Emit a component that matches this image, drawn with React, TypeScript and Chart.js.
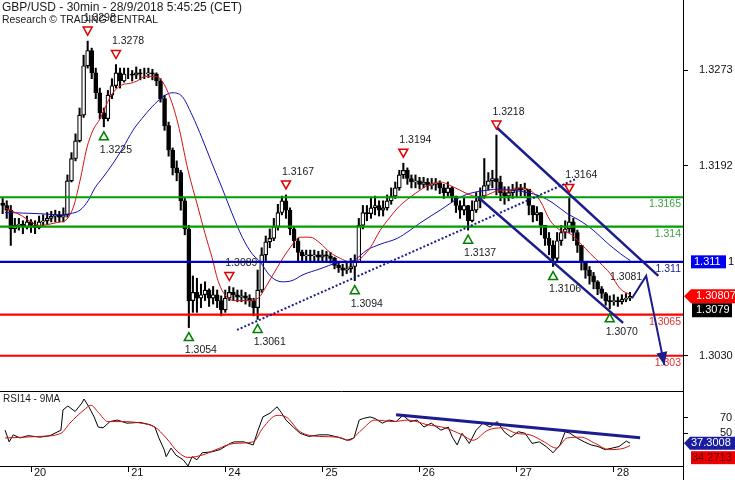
import React, { useEffect, useRef } from "react";
import { Chart, registerables } from "chart.js";

Chart.register(...registerables);

// ---------- texts ----------
const TITLE_LINE_1 = "GBP/USD - 30min - 28/9/2018 5:45:25 (CET)";
const TITLE_LINE_2 = "Research © TRADING CENTRAL";
const RSI_TITLE = "RSI14 - 9MA";

// ---------- x axis (hours since start of day 20, trading days only) ----------
const DAY_LABELS = ["20", "21", "24", "25", "26", "27", "28"];
const DAY_START_HOURS = [0, 24, 48, 72, 96, 120, 144];
const FIRST_BAR_HOUR = -7;
const X_MIN = -7.66;
const X_MAX = 161.1;

// ---------- price axis ----------
const PRICE_MIN = 1.3;
const PRICE_MAX = 1.3333;
const PRICE_TICKS = [1.303, 1.3192, 1.3273];

// ---------- hourly candles ----------
const OPEN_FIRST = 1.316;
const CLOSE = [
  1.3158, 1.3154, 1.3138, 1.3141, 1.3142, 1.314, 1.3144, 1.3141, 1.3139, 1.3144,
  1.3145, 1.3147, 1.3149, 1.315, 1.3148, 1.315, 1.3179, 1.3198, 1.3213, 1.3235,
  1.3277, 1.329, 1.3271, 1.3254, 1.3237, 1.3232, 1.3252, 1.326, 1.3271, 1.3264,
  1.327, 1.327, 1.3269, 1.3271, 1.327, 1.327, 1.3271, 1.327, 1.3264, 1.3249,
  1.3226, 1.3205, 1.319, 1.3186, 1.3162, 1.3138, 1.3077, 1.3084, 1.3079, 1.3082,
  1.3086, 1.3079, 1.3082, 1.3077, 1.3069, 1.3079, 1.3084, 1.3082, 1.308, 1.3081,
  1.3079, 1.3077, 1.3071, 1.3086, 1.3116, 1.3127, 1.313, 1.314, 1.3152, 1.3162,
  1.3154, 1.3138, 1.3128, 1.3118, 1.3115, 1.3116, 1.3115, 1.3116, 1.3114, 1.3116,
  1.3115, 1.3113, 1.3107, 1.3105, 1.3103, 1.3104, 1.3106, 1.311, 1.3141, 1.3152,
  1.3151, 1.3156, 1.3158, 1.3154, 1.3156, 1.3162, 1.3166, 1.3173, 1.3184, 1.3188,
  1.3181, 1.3178, 1.3179, 1.3176, 1.3178, 1.3175, 1.3176, 1.3177, 1.3173, 1.3169,
  1.3173, 1.3166, 1.3158, 1.3154, 1.3158, 1.3145, 1.3154, 1.3162, 1.3166, 1.3175,
  1.3179, 1.3181, 1.3178, 1.3169, 1.3166, 1.3169, 1.3171, 1.3173, 1.3171, 1.3172,
  1.3158, 1.315, 1.3152, 1.3141, 1.313, 1.3124, 1.3113, 1.3128, 1.3135, 1.3138,
  1.3144, 1.3135, 1.3124, 1.311, 1.3103, 1.3098, 1.3093, 1.3087, 1.3083, 1.3077,
  1.3076, 1.3077, 1.3076, 1.3078, 1.3079, 1.30807,
];
const HIGH = [
  1.3164, 1.3162, 1.3158, 1.3147, 1.3147, 1.3145, 1.3149, 1.3146, 1.3145, 1.3149,
  1.315, 1.3152, 1.3153, 1.3154, 1.3153, 1.3156, 1.3184, 1.3203, 1.3219, 1.3241,
  1.3286, 1.3298, 1.3292, 1.3275, 1.3258, 1.3241, 1.3256, 1.3266, 1.3278, 1.3275,
  1.3275, 1.3275, 1.3273, 1.3276, 1.3274, 1.3275, 1.3275, 1.3274, 1.3271, 1.3266,
  1.3252, 1.3229, 1.3207, 1.3196, 1.3188, 1.3164, 1.3141, 1.3098, 1.3096, 1.3091,
  1.3093, 1.3087, 1.3089, 1.3086, 1.3081, 1.3086, 1.3089, 1.3088, 1.3086, 1.3086,
  1.3084, 1.3082, 1.3079, 1.3103, 1.3122, 1.3132, 1.3138, 1.3147, 1.3159, 1.3166,
  1.3167, 1.3156, 1.314, 1.313, 1.312, 1.312, 1.312, 1.312, 1.3119, 1.312,
  1.3119, 1.3118, 1.3114, 1.311, 1.3108, 1.311, 1.3113, 1.3116, 1.3147, 1.3158,
  1.3158, 1.3164, 1.3166, 1.3162, 1.3162, 1.3167, 1.3173, 1.3178, 1.3188, 1.3194,
  1.319, 1.3184, 1.3184, 1.3182, 1.3182, 1.3181, 1.3181, 1.3181, 1.3179, 1.3176,
  1.3178, 1.3174, 1.3166, 1.3162, 1.3164, 1.3158, 1.3162, 1.3169, 1.3173, 1.3198,
  1.3186, 1.3188, 1.3218, 1.3183, 1.3174, 1.3174, 1.3176, 1.3178, 1.3176, 1.3177,
  1.3171, 1.3158, 1.3157, 1.3152, 1.3141, 1.3135, 1.3128, 1.3135, 1.3141, 1.3145,
  1.3164, 1.3147, 1.3137, 1.3124, 1.311, 1.3106, 1.3101, 1.3094, 1.3089, 1.3084,
  1.3081, 1.3082, 1.308, 1.3082, 1.3083, 1.3084,
];
const LOW = [
  1.3151, 1.3147, 1.3124, 1.3135, 1.3137, 1.3134, 1.3138, 1.3135, 1.3134, 1.3138,
  1.314, 1.3142, 1.3144, 1.3144, 1.3144, 1.3144, 1.3148, 1.3178, 1.3196, 1.3212,
  1.3233, 1.3275, 1.3266, 1.3249, 1.3232, 1.3225, 1.323, 1.3249, 1.3258, 1.3258,
  1.3263, 1.3266, 1.3264, 1.3266, 1.3265, 1.3266, 1.3267, 1.3265, 1.326, 1.3246,
  1.3222, 1.32, 1.3184, 1.3179, 1.3154, 1.3133, 1.3054, 1.3067, 1.3067, 1.3071,
  1.3077, 1.3072, 1.3074, 1.3071, 1.3064, 1.3067, 1.3077, 1.3077, 1.3076, 1.3076,
  1.3074, 1.3072, 1.3064, 1.3061, 1.3084, 1.3111, 1.3122, 1.3128, 1.3137, 1.315,
  1.3147, 1.3133, 1.3122, 1.3111, 1.311, 1.3111, 1.311, 1.3111, 1.311, 1.3111,
  1.311, 1.3109, 1.3104, 1.3101, 1.3098, 1.31, 1.3101, 1.3094, 1.311, 1.3138,
  1.3145, 1.3147, 1.315, 1.3149, 1.3149, 1.3154, 1.3159, 1.3164, 1.3171, 1.3181,
  1.3176, 1.3173, 1.3173, 1.3172, 1.3173, 1.3171, 1.3172, 1.3171, 1.3168, 1.3164,
  1.3166, 1.3161, 1.3152, 1.3147, 1.315, 1.3137, 1.3144, 1.3152, 1.3156, 1.3164,
  1.3171, 1.3173, 1.3167, 1.3162, 1.3159, 1.3162, 1.3164, 1.3165, 1.3166, 1.3166,
  1.315, 1.3144, 1.3145, 1.3133, 1.3124, 1.3116, 1.3106, 1.3111, 1.3124, 1.313,
  1.3135, 1.3128, 1.3118, 1.3103, 1.3096, 1.3091, 1.3087, 1.3082, 1.3079, 1.3073,
  1.307, 1.3073, 1.3072, 1.3074, 1.3076, 1.3077,
];

// ---------- moving averages: [hour, price] ----------
const RED_MA: [number, number][] = [
  [-6.4, 1.3156], [-2.7, 1.315], [2.2, 1.3141], [7.2, 1.3144], [8.4, 1.3145], [10.4, 1.3156],
  [12.1, 1.3179], [13.8, 1.3207], [15.3, 1.3222], [17.1, 1.3232], [18.3, 1.3241], [19.5, 1.325],
  [21.3, 1.3258], [22.7, 1.3261], [24.5, 1.3262], [26.2, 1.3264], [28.2, 1.3268], [30.6, 1.3268],
  [31.9, 1.3266], [33.9, 1.3254], [36.3, 1.3228], [38.8, 1.3188], [41.3, 1.3156], [43.0, 1.3134],
  [44.7, 1.3114], [46.2, 1.3094], [47.9, 1.3082], [50.4, 1.3077], [53.6, 1.3077], [56.1, 1.3079],
  [58.6, 1.3092], [61.5, 1.3109], [64.0, 1.3122], [66.5, 1.3131], [69.0, 1.3131], [71.4, 1.3126],
  [73.9, 1.3118], [76.4, 1.3113], [78.8, 1.311], [80.6, 1.3111], [83.8, 1.3122], [86.3, 1.3137],
  [88.7, 1.3148], [91.2, 1.3158], [93.7, 1.3165], [96.1, 1.3171], [98.6, 1.3176], [101.1, 1.3178],
  [103.6, 1.3175], [106.0, 1.3171], [108.5, 1.3167], [111.0, 1.3165], [113.4, 1.3168], [115.9, 1.3171],
  [118.4, 1.3171], [120.9, 1.3173], [123.3, 1.3171], [125.8, 1.3162], [128.3, 1.3145], [130.7, 1.3137],
  [133.2, 1.3134], [135.7, 1.3126], [138.2, 1.3117], [140.6, 1.3109], [143.1, 1.31], [145.6, 1.3087],
  [148.1, 1.3082],
];
const BLUE_MA: [number, number][] = [
  [-6.4, 1.3152], [2.2, 1.3151], [7.2, 1.315], [9.6, 1.3151], [12.1, 1.3154], [14.1, 1.3162],
  [15.8, 1.3173], [17.8, 1.3182], [20.3, 1.3194], [22.7, 1.3207], [25.2, 1.3222], [27.4, 1.3232],
  [29.9, 1.3242], [32.4, 1.325], [34.8, 1.3254], [37.3, 1.3251], [39.8, 1.3235], [42.3, 1.3215],
  [44.7, 1.3194], [47.2, 1.3173], [49.7, 1.3151], [52.2, 1.3131], [54.6, 1.3117], [56.6, 1.311],
  [59.1, 1.3098], [62.0, 1.3093], [64.5, 1.3094], [67.2, 1.3099], [71.4, 1.3104], [75.6, 1.3109],
  [79.6, 1.3111], [83.0, 1.312], [86.3, 1.3125], [90.5, 1.313], [93.7, 1.3137], [96.1, 1.3143],
  [101.1, 1.3154], [106.0, 1.3165], [109.2, 1.3169], [112.7, 1.3171], [115.9, 1.3172], [119.1, 1.3171],
  [122.6, 1.3169], [125.8, 1.3166], [129.0, 1.316], [132.5, 1.3151], [135.7, 1.3145], [138.9, 1.3137],
  [142.4, 1.3126], [145.6, 1.3117], [148.1, 1.3111],
];

// ---------- horizontal levels ----------
const LEVEL_VALUES = [1.3165, 1.314, 1.311, 1.3065, 1.303];
const LEVEL_TEXT = ["1.3165", "1.314", "1.311", "1.3065", "1.303"];

// ---------- pivots: [hour, price] ----------
const PIVOT_HIGHS: [number, number][] = [
  [14, 1.3298], [21, 1.3278], [49, 1.3089], [63, 1.3167], [92, 1.3194], [115, 1.3218], [133, 1.3164],
];
const PIVOT_LOWS: [number, number][] = [
  [18, 1.3225], [39, 1.3054], [56, 1.3061], [80, 1.3094], [108, 1.3137], [129, 1.3106], [143, 1.307],
];

// ---------- drawn lines: [hour, price] ----------
const CHANNEL_UPPER: [number, number][] = [[115.2, 1.3224], [155.0, 1.3098]];
const CHANNEL_LOWER: [number, number][] = [[110.5, 1.3165], [146.3, 1.3058]];
const SUPPORT_LINE: [number, number][] = [[50.9, 1.3052], [134.9, 1.3181]];
const PROJECTION: [number, number][] = [[148.5, 1.3079], [152.0, 1.3098], [156.5, 1.3022]];
const PROJECTION_TEXT = "1.3081";

// ---------- right-side value boxes ----------
const BLUE_BOX_VALUE = 1.311;
const LAST_PRICE = 1.30807;
const BID_PRICE = 1.3079;

// ---------- RSI panel ----------
const RSI_MIN = 8;
const RSI_MAX = 103;
const RSI_TICKS = [50, 70];
const RSI_LINE: [number, number][] = [
  [-6.4, 54], [-5.4, 39], [-4.4, 48], [-2.7, 44], [-0.7, 47], [2.2, 45], [4.7, 47], [7.4, 54],
  [7.9, 80], [9.1, 85], [10.9, 78], [12.6, 89], [13.1, 94], [14.3, 84], [15.6, 71], [16.6, 58],
  [17.8, 57], [19.5, 65], [21.3, 67], [23.7, 63], [26.9, 64], [29.4, 61], [30.6, 58], [31.6, 44],
  [32.9, 29], [33.4, 20], [34.6, 31], [35.8, 22], [37.6, 16], [38.8, 8], [39.8, 20], [41.0, 16],
  [42.3, 25], [44.5, 26], [46.7, 29], [49.2, 37], [50.2, 39], [52.6, 39], [54.9, 35], [56.1, 54],
  [57.3, 71], [59.1, 76], [60.8, 84], [61.8, 77], [63.0, 67], [64.8, 58], [66.5, 50], [68.7, 46],
  [71.2, 48], [73.4, 48], [75.9, 45], [78.1, 41], [79.8, 44], [81.1, 67], [82.1, 69], [83.8, 71],
  [85.0, 69], [86.8, 63], [88.5, 67], [90.2, 65], [91.9, 73], [93.7, 65], [95.4, 67], [97.1, 58],
  [98.9, 63], [101.3, 54], [103.1, 58], [104.1, 45], [105.3, 35], [106.5, 50], [108.3, 37], [110.0, 54],
  [111.7, 63], [113.4, 58], [115.2, 65], [116.9, 52], [118.6, 45], [120.4, 52], [122.1, 50], [123.8, 37],
  [125.6, 39], [127.3, 33], [129.0, 25], [130.7, 35], [132.0, 52], [133.2, 50], [134.9, 44], [136.7, 39],
  [138.4, 35], [140.1, 33], [141.9, 29], [143.6, 31], [145.3, 33], [147.1, 40], [148.0, 37.3],
];
const RSI_MA_LINE: [number, number][] = [
  [-6.4, 44], [2.2, 46], [7.4, 50], [9.6, 63], [13.1, 80], [14.8, 86], [16.6, 77], [19.0, 65],
  [22.5, 65], [27.2, 63], [30.6, 58], [33.4, 44], [36.3, 26], [38.8, 19], [42.3, 22], [45.7, 29],
  [50.2, 37], [54.9, 39], [57.3, 57], [60.8, 73], [63.0, 71], [66.5, 52], [71.2, 46], [75.9, 45],
  [78.6, 41], [81.6, 54], [85.0, 67], [89.7, 65], [93.2, 67], [97.9, 61], [102.3, 57], [106.5, 48],
  [109.2, 41], [112.9, 54], [116.4, 57], [119.9, 50], [123.3, 48], [126.8, 39], [129.8, 31], [132.5, 44],
  [135.9, 45], [139.4, 37], [142.9, 29], [146.6, 31], [148.0, 34.3],
];
const RSI_TREND: [number, number][] = [[90.2, 73.8], [150.5, 44.4]];
const RSI_LAST = 37.3008;
const RSI_MA_LAST = 34.2713;

// ---------- styles ----------
const FONT = '"Liberation Sans", Arial, Helvetica, sans-serif';
const NAVY = "#1c1c8e";
const LEVEL_LINE_COLORS = ["#00a000", "#00a000", "#0000cc", "#ff0000", "#ff0000"];
const LEVEL_TEXT_COLORS = ["#3f9f3f", "#3f9f3f", "#1c1c8e", "#e03030", "#e03030"];

Chart.defaults.font.family = FONT;

const pts = (arr: [number, number][]) => arr.map(([x, y]) => ({ x, y }));

function triangle(ctx: any, x: number, y: number, down: boolean, color: string) {
  const w = 4.5;
  const h = 4;
  ctx.beginPath();
  if (down) {
    ctx.moveTo(x - w, y - h);
    ctx.lineTo(x + w, y - h);
    ctx.lineTo(x, y + h);
  } else {
    ctx.moveTo(x - w, y + h);
    ctx.lineTo(x + w, y + h);
    ctx.lineTo(x, y - h);
  }
  ctx.closePath();
  ctx.fillStyle = "#ffffff";
  ctx.fill();
  ctx.lineWidth = 1.5;
  ctx.strokeStyle = color;
  ctx.stroke();
}

const mainDecor = {
  id: "mainDecor",
  beforeDatasetsDraw(chart: any) {
    const { ctx, chartArea } = chart;
    const ys = chart.scales.y;
    ctx.save();
    ctx.font = `10.5px ${FONT}`;
    ctx.textAlign = "right";
    ctx.textBaseline = "middle";
    LEVEL_VALUES.forEach((v, i) => {
      ctx.fillStyle = LEVEL_TEXT_COLORS[i];
      ctx.fillText(LEVEL_TEXT[i], chartArea.right - 2, ys.getPixelForValue(v) + 7);
    });
    ctx.restore();
  },
  afterDatasetsDraw(chart: any) {
    const { ctx } = chart;
    const xs = chart.scales.x;
    const ys = chart.scales.y;
    ctx.save();
    // title
    ctx.fillStyle = "#1a1a1a";
    ctx.textAlign = "left";
    ctx.textBaseline = "top";
    ctx.font = `12px ${FONT}`;
    ctx.fillText(TITLE_LINE_1, 2, 2);
    ctx.font = `11.5px ${FONT}`;
    ctx.fillText(TITLE_LINE_2, 2, 14, 156);

    // pivots
    ctx.font = `10.5px ${FONT}`;
    ctx.textBaseline = "middle";
    PIVOT_HIGHS.forEach(([t, p]) => {
      const x = xs.getPixelForValue(t);
      const y = ys.getPixelForValue(p);
      triangle(ctx, x, y - 10, true, "#e00000");
      ctx.fillStyle = "#1a1a1a";
      ctx.fillText(p.toFixed(4), x - 4, y - 23);
    });
    PIVOT_LOWS.forEach(([t, p]) => {
      const x = xs.getPixelForValue(t);
      const y = ys.getPixelForValue(p);
      triangle(ctx, x, y + 9, false, "#008000");
      ctx.fillStyle = "#1a1a1a";
      ctx.fillText(p.toFixed(4), x - 4, y + 23);
    });

    // projection arrow head + label
    const n = PROJECTION.length;
    const x1 = xs.getPixelForValue(PROJECTION[n - 2][0]);
    const y1 = ys.getPixelForValue(PROJECTION[n - 2][1]);
    const x2 = xs.getPixelForValue(PROJECTION[n - 1][0]);
    const y2 = ys.getPixelForValue(PROJECTION[n - 1][1]);
    const a = Math.atan2(y2 - y1, x2 - x1);
    const L = 13;
    const W = 5.5;
    ctx.beginPath();
    ctx.moveTo(x2, y2);
    ctx.lineTo(x2 - L * Math.cos(a) + W * Math.sin(a), y2 - L * Math.sin(a) - W * Math.cos(a));
    ctx.lineTo(x2 - L * Math.cos(a) - W * Math.sin(a), y2 - L * Math.sin(a) + W * Math.cos(a));
    ctx.closePath();
    ctx.fillStyle = NAVY;
    ctx.fill();
    ctx.textAlign = "right";
    ctx.fillStyle = "#1a1a1a";
    ctx.fillText(PROJECTION_TEXT, xs.getPixelForValue(PROJECTION[1][0]) - 4, ys.getPixelForValue(PROJECTION[1][1]) + 1);
    ctx.restore();
  },
  afterDraw(chart: any) {
    const { ctx, chartArea } = chart;
    const ys = chart.scales.y;
    const r = Math.round(chartArea.right);
    ctx.save();
    // full-height axis line
    ctx.strokeStyle = "#000";
    ctx.lineWidth = 1;
    ctx.beginPath();
    ctx.moveTo(r + 0.5, 0);
    ctx.lineTo(r + 0.5, chart.height);
    ctx.stroke();

    ctx.font = `11px ${FONT}`;
    ctx.textAlign = "left";
    ctx.textBaseline = "middle";
    // blue level box
    const yb = ys.getPixelForValue(BLUE_BOX_VALUE);
    ctx.fillStyle = "#0000f0";
    ctx.fillRect(r + 8, yb - 6.5, 35, 13);
    ctx.fillStyle = "#ffffff";
    ctx.fillText(BLUE_BOX_VALUE.toFixed(3), r + 11, yb);
    ctx.fillStyle = "#000";
    ctx.fillText("1", r + 45, yb);
    // last price arrow box
    const yl = ys.getPixelForValue(LAST_PRICE);
    ctx.fillStyle = "#ff0000";
    ctx.beginPath();
    ctx.moveTo(r + 1, yl);
    ctx.lineTo(r + 8, yl - 7);
    ctx.lineTo(chart.width, yl - 7);
    ctx.lineTo(chart.width, yl + 7);
    ctx.lineTo(r + 8, yl + 7);
    ctx.closePath();
    ctx.fill();
    ctx.fillStyle = "#ffffff";
    ctx.fillText(LAST_PRICE.toFixed(5), r + 13, yl);
    // bid box
    const yk = yl + 14;
    ctx.fillStyle = "#000";
    ctx.fillRect(r + 9, yk - 7, 40, 14);
    ctx.fillStyle = "#ffffff";
    ctx.fillText(BID_PRICE.toFixed(4), r + 13, yk);
    ctx.restore();
  },
};

const rsiDecor = {
  id: "rsiDecor",
  afterDraw(chart: any) {
    const { ctx, chartArea } = chart;
    const ys = chart.scales.y;
    const r = Math.round(chartArea.right);
    ctx.save();
    ctx.strokeStyle = "#000";
    ctx.lineWidth = 1;
    ctx.beginPath();
    ctx.moveTo(r + 0.5, 0);
    ctx.lineTo(r + 0.5, chart.height);
    ctx.moveTo(0, 0.5);
    ctx.lineTo(r, 0.5);
    ctx.stroke();

    ctx.font = `10px ${FONT}`;
    ctx.fillStyle = "#1a1a1a";
    ctx.textAlign = "left";
    ctx.textBaseline = "middle";
    ctx.fillText(RSI_TITLE, 3, 8.5);

    ctx.font = `11px ${FONT}`;
    const y1 = ys.getPixelForValue(RSI_LAST);
    ctx.fillStyle = "#1c1ca0";
    ctx.beginPath();
    ctx.moveTo(r + 1, y1);
    ctx.lineTo(r + 7, y1 - 6.5);
    ctx.lineTo(chart.width, y1 - 6.5);
    ctx.lineTo(chart.width, y1 + 6.5);
    ctx.lineTo(r + 7, y1 + 6.5);
    ctx.closePath();
    ctx.fill();
    ctx.fillStyle = "#ffffff";
    ctx.fillText(RSI_LAST.toFixed(4), r + 8, y1);
    const y2 = y1 + 14.5;
    ctx.fillStyle = "#ee0000";
    ctx.fillRect(r + 8, y2 - 6.5, chart.width - r - 8, 13);
    ctx.fillStyle = "#5a0000";
    ctx.fillText(RSI_MA_LAST.toFixed(4), r + 9, y2);
    ctx.restore();
  },
};

function fixY(width: number) {
  return (s: any) => {
    s.width = width;
    s.paddingTop = 0;
    s.paddingBottom = 0;
  };
}

export default function App() {
  const mainRef = useRef<HTMLCanvasElement | null>(null);
  const rsiRef = useRef<HTMLCanvasElement | null>(null);

  useEffect(() => {
    if (!mainRef.current || !rsiRef.current) return;
    const hourOf = (k: number) => k + FIRST_BAR_HOUR;
    const opens = CLOSE.map((c, k) => (k === 0 ? OPEN_FIRST : CLOSE[k - 1]));
    const wick = CLOSE.map((c, k) => ({ x: hourOf(k), y: [LOW[k], HIGH[k]] }));
    const body = CLOSE.map((c, k) => ({ x: hourOf(k), y: [opens[k], c] }));
    const bodyFill = CLOSE.map((c, k) => (c >= opens[k] ? "#ffffff" : "#000000"));

    const levelSets = LEVEL_VALUES.map((v, i) => ({
      type: "line",
      data: [{ x: X_MIN, y: v }, { x: X_MAX, y: v }],
      borderColor: LEVEL_LINE_COLORS[i],
      borderWidth: 2.2,
      pointRadius: 0,
      order: 4,
    }));

    const lineStyle = (color: string, width: number, order: number) => ({
      borderColor: color,
      borderWidth: width,
      pointRadius: 0,
      order,
    });

    const main = new Chart(mainRef.current, {
      type: "bar",
      data: {
        datasets: [
          { type: "bar", data: wick, backgroundColor: "#000", barThickness: 1.4, grouped: false, borderWidth: 0, order: 20 },
          {
            type: "bar",
            data: body,
            backgroundColor: bodyFill,
            borderColor: "#000",
            borderWidth: 1.2,
            borderSkipped: false,
            barThickness: 4,
            grouped: false,
            order: 19,
          },
          { type: "line", data: pts(BLUE_MA), ...lineStyle("#1010b4", 1, 10), cubicInterpolationMode: "monotone" },
          { type: "line", data: pts(RED_MA), ...lineStyle("#d41010", 1, 9), cubicInterpolationMode: "monotone" },
          ...levelSets,
          { type: "line", data: pts(SUPPORT_LINE), ...lineStyle(NAVY, 2, 2), borderDash: [2, 2] },
          { type: "line", data: pts(CHANNEL_UPPER), ...lineStyle(NAVY, 2.5, 1) },
          { type: "line", data: pts(CHANNEL_LOWER), ...lineStyle(NAVY, 2.5, 1) },
          { type: "line", data: pts(PROJECTION), ...lineStyle(NAVY, 2, 1) },
        ] as any,
      },
      options: {
        animation: false,
        responsive: false,
        devicePixelRatio: 1,
        events: [],
        layout: { padding: 0 },
        plugins: { legend: { display: false }, tooltip: { enabled: false } },
        scales: {
          x: { type: "linear", display: false, min: X_MIN, max: X_MAX, offset: false },
          y: {
            type: "linear",
            position: "right",
            min: PRICE_MIN,
            max: PRICE_MAX,
            afterBuildTicks: (s: any) => {
              s.ticks = PRICE_TICKS.map((v) => ({ value: v }));
            },
            afterFit: fixY(52),
            ticks: {
              callback: (v: any) => Number(v).toFixed(4),
              color: "#111",
              font: { size: 11, family: FONT },
              padding: 11,
            },
            grid: { drawOnChartArea: false, tickLength: 5, color: "#000" },
            border: { display: true, color: "#000" },
          },
        },
      } as any,
      plugins: [mainDecor],
    });

    const rsi = new Chart(rsiRef.current, {
      type: "line",
      data: {
        datasets: [
          { data: pts(RSI_LINE), ...lineStyle("#000000", 1, 3) },
          { data: pts(RSI_MA_LINE), ...lineStyle("#d41010", 1, 2), cubicInterpolationMode: "monotone" },
          { data: pts(RSI_TREND), ...lineStyle(NAVY, 3, 1) },
        ] as any,
      },
      options: {
        animation: false,
        responsive: false,
        devicePixelRatio: 1,
        events: [],
        layout: { padding: { top: 1, left: 0, right: 0, bottom: 0 } },
        plugins: { legend: { display: false }, tooltip: { enabled: false } },
        scales: {
          x: {
            type: "linear",
            min: X_MIN,
            max: X_MAX,
            offset: false,
            afterBuildTicks: (s: any) => {
              s.ticks = DAY_START_HOURS.map((v) => ({ value: v }));
            },
            afterFit: (s: any) => {
              s.height = 14;
              s.paddingLeft = 0;
              s.paddingRight = 0;
            },
            ticks: {
              callback: (_v: any, i: number) => DAY_LABELS[i],
              align: "start",
              labelOffset: 3,
              padding: -6,
              maxRotation: 0,
              autoSkip: false,
              color: "#111",
              font: { size: 11, family: FONT },
            },
            grid: { drawOnChartArea: false, tickLength: 6, color: "#000" },
            border: { display: true, color: "#000" },
          },
          y: {
            type: "linear",
            position: "right",
            min: RSI_MIN,
            max: RSI_MAX,
            afterBuildTicks: (s: any) => {
              s.ticks = RSI_TICKS.map((v) => ({ value: v }));
            },
            afterFit: fixY(52),
            ticks: { color: "#111", font: { size: 11, family: FONT }, padding: 32 },
            grid: { drawOnChartArea: false, tickLength: 5, color: "#000" },
            border: { display: true, color: "#000" },
          },
        },
      } as any,
      plugins: [rsiDecor],
    });

    return () => {
      main.destroy();
      rsi.destroy();
    };
  }, []);

  return (
    <div
      style={{
        position: "fixed",
        left: 0,
        top: 0,
        width: 735,
        height: 480,
        background: "#ffffff",
        overflow: "hidden",
      }}
    >
      <canvas
        ref={mainRef}
        width={735}
        height={391}
        style={{ position: "absolute", left: 0, top: 0, width: 735, height: 391, display: "block" }}
      />
      <canvas
        ref={rsiRef}
        width={735}
        height={89}
        style={{ position: "absolute", left: 0, top: 391, width: 735, height: 89, display: "block" }}
      />
    </div>
  );
}
